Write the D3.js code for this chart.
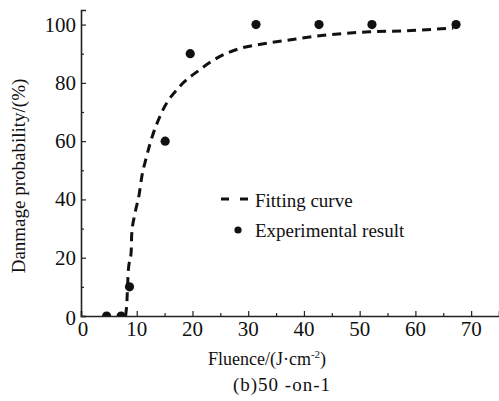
<!DOCTYPE html>
<html><head><meta charset="utf-8"><script src="https://cdn.jsdelivr.net/npm/d3@7"></script></head>
<body style="margin:0">
<div id="chart"></div>
<script>
// experimental points (fluence J/cm2, probability %)
const expFluence = [4.6, 7.2, 8.7, 15.1, 19.6, 31.4, 42.7, 52.2, 67.3];
const expProb    = [0, 0, 10, 60, 90, 100, 100, 100, 100];

// fitting curve
const fitFluence = [8.0, 8.2, 8.5, 9.0, 9.1, 9.7, 10.45, 10.9, 11.6, 12.4, 14.7, 17.7, 21.3, 24.3, 28.5, 31.5, 38, 44, 51.8, 58.4, 66.8];
const fitProb    = [0, 3.8, 15.8, 22, 28, 35.3, 41.9, 47.7, 53.5, 59.2, 70.7, 78.7, 84.5, 88.4, 91.8, 93, 94.9, 96.4, 97.5, 97.9, 98.8];

const xTicks = [0, 10, 20, 30, 40, 50, 60, 70];
const xMinor = [5, 15, 25, 35, 45, 55, 65];
const yTicks = [0, 20, 40, 60, 80, 100];
const yMinor = [10, 30, 50, 70, 90];

const width = 499, height = 401;
const serif = "Tinos";

const svg = d3.select("#chart")
              .append("svg")
                .attr("width", width)
                .attr("height", height)
                .attr("font-family", serif);

const x = d3.scaleLinear().domain([0, 75]).range([81, 499]);
const y = d3.scaleLinear().domain([0, 105]).range([316, 10]);

// axes, ticks pointing inward
const xAxis = svg.append("g")
                 .attr("transform", `translate(0,${y(0)})`)
                 .call(d3.axisTop(x).tickValues(xTicks).tickSize(5).tickFormat(""));
const xAxisMinor = svg.append("g")
                 .attr("transform", `translate(0,${y(0)})`)
                 .call(d3.axisTop(x).tickValues(xMinor).tickSize(3).tickFormat(""));
const yAxis = svg.append("g")
                 .attr("transform", `translate(${x(0)},0)`)
                 .call(d3.axisRight(y).tickValues(yTicks).tickSize(5).tickFormat(""));
const yAxisMinor = svg.append("g")
                 .attr("transform", `translate(${x(0)},0)`)
                 .call(d3.axisRight(y).tickValues(yMinor).tickSize(3).tickFormat(""));

svg.selectAll(".domain").attr("stroke", "#222").attr("stroke-width", 1.6);
svg.selectAll(".tick line").attr("stroke", "#222").attr("stroke-width", 1.2);
xAxisMinor.select(".domain").remove();
yAxisMinor.select(".domain").remove();

// tick labels
svg.selectAll(".xlab")
   .data(xTicks)
   .enter()
   .append("text")
   .attr("class", "xlab")
   .attr("x", d => x(d) + (d === 0 ? 2 : 0))
   .attr("y", 336)
   .attr("text-anchor", "middle")
   .attr("font-family", serif)
   .attr("font-size", 21)
   .attr("fill", "#111")
   .text(d => d);

svg.selectAll(".ylab")
   .data(yTicks)
   .enter()
   .append("text")
   .attr("class", "ylab")
   .attr("x", 76)
   .attr("y", d => y(d) + 7 + (d === 0 ? 2 : 0))
   .attr("text-anchor", "end")
   .attr("font-family", serif)
   .attr("font-size", 21)
   .attr("fill", "#111")
   .text(d => d);

// axis titles
const xTitle = svg.append("text")
   .attr("x", 267)
   .attr("y", 365)
   .attr("text-anchor", "middle")
   .attr("font-family", serif)
   .attr("font-size", 18)
   .attr("fill", "#111");
xTitle.append("tspan").text("Fluence/(J\u00b7cm");
xTitle.append("tspan").attr("dy", -7).attr("font-size", 11).text("-2");
xTitle.append("tspan").attr("dy", 7).text(")");

svg.append("text")
   .attr("transform", "translate(25,176) rotate(-90)")
   .attr("text-anchor", "middle")
   .attr("font-family", serif)
   .attr("font-size", 19)
   .attr("fill", "#111")
   .text("Danmage probability/(%)");

svg.append("text")
   .attr("x", 282)
   .attr("y", 391)
   .attr("text-anchor", "middle")
   .attr("font-family", serif)
   .attr("font-size", 19)
   .attr("letter-spacing", 1)
   .attr("fill", "#111")
   .text("(b)50 -on-1");

// fitting curve
const fitData = fitFluence.map((f, i) => [f, fitProb[i]]);
const line = d3.line()
               .x(d => x(d[0]))
               .y(d => y(d[1]))
               .curve(d3.curveMonotoneX);

svg.append("path")
   .datum(fitData)
   .attr("d", line)
   .attr("fill", "none")
   .attr("stroke", "#111")
   .attr("stroke-width", 3)
   .attr("stroke-dasharray", "9,6");

// experimental points, clipped at the x axis
svg.append("clipPath")
   .attr("id", "plotClip")
   .append("rect")
   .attr("x", x(0))
   .attr("y", 0)
   .attr("width", width - x(0))
   .attr("height", y(0));

svg.append("g")
   .attr("clip-path", "url(#plotClip)")
   .selectAll("circle")
   .data(expFluence.map((f, i) => [f, expProb[i]]))
   .enter()
   .append("circle")
   .attr("cx", d => x(d[0]))
   .attr("cy", d => y(d[1]))
   .attr("r", 4.6)
   .style("fill", "#111");

// legend
svg.append("line")
   .attr("x1", 221).attr("x2", 249)
   .attr("y1", 199).attr("y2", 199)
   .attr("stroke", "#111")
   .attr("stroke-width", 3)
   .attr("stroke-dasharray", "8,11");
svg.append("text")
   .attr("x", 255).attr("y", 207)
   .attr("font-family", serif)
   .attr("font-size", 19)
   .attr("fill", "#111")
   .text("Fitting curve");

svg.append("circle")
   .attr("cx", 238).attr("cy", 230)
   .attr("r", 3.6)
   .style("fill", "#111");
svg.append("text")
   .attr("x", 255).attr("y", 237)
   .attr("font-family", serif)
   .attr("font-size", 19)
   .attr("fill", "#111")
   .text("Experimental result");
</script>
</body></html>
